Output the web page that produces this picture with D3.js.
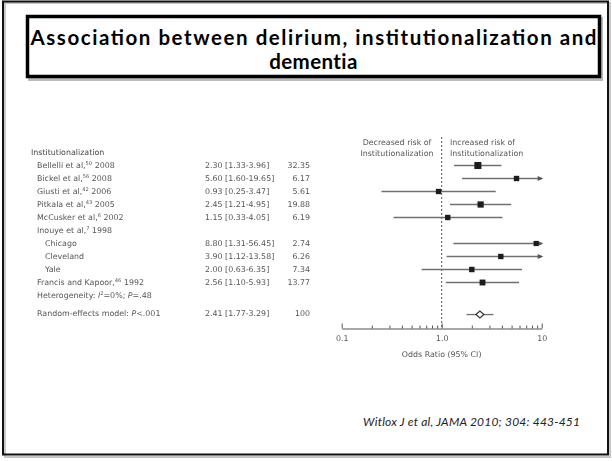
<!DOCTYPE html>
<html>
<head>
<meta charset="utf-8">
<script src="https://cdn.jsdelivr.net/npm/d3@7"></script>
<style>
  html, body { margin: 0; padding: 0; background: #fff; }
  svg { display: block; }
</style>
</head>
<body>
<svg id="slide" width="612" height="461"></svg>
<script>
// ---- data ----
const titleLines = ["Association between delirium, institutionalization and", "dementia"];
const citation = "Witlox J et al, JAMA 2010; 304: 443-451";
const sectionLabel = "Institutionalization";

const studies = ["Bellelli et al,", "Bickel et al,", "Giusti et al,", "Pitkala et al,", "McCusker et al,",
                 "Chicago", "Cleveland", "Yale", "Francis and Kapoor,"];
const refs    = ["50", "56", "42", "43", "6", "", "", "", "46"];
const years   = ["2008", "2008", "2006", "2005", "2002", "", "", "", "1992"];
const oddsRatio = [2.30, 5.60, 0.93, 2.45, 1.15, 8.80, 3.90, 2.00, 2.56];
const ciLow     = [1.33, 1.60, 0.25, 1.21, 0.33, 1.31, 1.12, 0.63, 1.10];
const ciHigh    = [3.96, 19.65, 3.47, 4.95, 4.05, 56.45, 13.58, 6.35, 5.93];
const weights   = [32.35, 6.17, 5.61, 19.88, 6.19, 2.74, 6.26, 7.34, 13.77];
const studyRows = [1, 2, 3, 4, 5, 7, 8, 9, 10];

// multi-site study heading (its sites are listed beneath it)
const groupStudy = { name: "Inouye et al,", ref: "7", year: "1998", row: 6 };

const heterogeneity = { row: 11 };
const pooled = { label: "Random-effects model: ", p: "P", pText: "<.001", or: 2.41, lo: 1.77, hi: 3.29, weight: 100, row: 12.35 };

const axisTicks = [0.1, 0.2, 0.3, 0.4, 0.5, 0.6, 0.7, 0.8, 0.9, 1, 2, 3, 4, 5, 6, 7, 8, 9, 10];
const axisLabels = { 0.1: "0.1", 1: "1.0", 10: "10" };
const sideLabels = [["Decreased risk of", "Institutionalization"], ["Increased risk of", "Institutionalization"]];
const axisTitle = "Odds Ratio (95% CI)";

// ---- drawing ----
const svg = d3.select("#slide");
const W = 612, H = 461;
svg.append("rect").attr("width", W).attr("height", H).attr("fill", "#fff");

// slide frame with a soft shadow
svg.append("rect").attr("x", 5).attr("y", 3).attr("width", 605).attr("height", 454)
  .attr("fill", "none").attr("stroke", "#c8c8c8").attr("stroke-width", 2);
svg.append("rect").attr("x", 3).attr("y", 1.5).attr("width", 605).attr("height", 453)
  .attr("fill", "none").attr("stroke", "#111").attr("stroke-width", 2);

// title box
svg.append("rect").attr("x", 29.5).attr("y", 18.5).attr("width", 572).attr("height", 61)
  .attr("fill", "none").attr("stroke", "#bbb").attr("stroke-width", 3);
svg.append("rect").attr("x", 27.5).attr("y", 16.5).attr("width", 572).attr("height", 60)
  .attr("fill", "#fff").attr("stroke", "#000").attr("stroke-width", 3.5);

const titleFont = "Lato, 'Open Sans', 'Liberation Sans', sans-serif";
const titleSize = 20.5;
svg.append("text").attr("x", 313.5).attr("y", 44.5).attr("text-anchor", "middle")
  .attr("font-family", titleFont).attr("font-weight", "bold").attr("font-size", titleSize)
  .attr("textLength", 566).attr("lengthAdjust", "spacing")
  .attr("fill", "#000").text(titleLines[0]);
svg.append("text").attr("x", 313.5).attr("y", 68.5).attr("text-anchor", "middle")
  .attr("font-family", titleFont).attr("font-weight", "bold").attr("font-size", titleSize)
  .attr("letter-spacing", 0.4)
  .attr("fill", "#000").text(titleLines[1]);

// citation
svg.append("text").attr("x", 363).attr("y", 426)
  .attr("font-family", titleFont).attr("font-style", "italic").attr("font-size", 12)
  .attr("textLength", 217).attr("lengthAdjust", "spacing")
  .attr("fill", "#222").text(citation);

// ---- forest plot ----
const defs = svg.append("defs");
defs.append("filter").attr("id", "soft").attr("x", "-5%").attr("y", "-5%").attr("width", "110%").attr("height", "110%")
  .append("feGaussianBlur").attr("stdDeviation", 0.6);

const fig = svg.append("g").attr("filter", "url(#soft)");
const x = d3.scaleLog().domain([0.1, 10]).range([341.7, 541.7]);
const y = d3.scaleLinear().domain([0, 12]).range([152.5, 308.5]);
const size = d3.scaleLinear().domain([0, 35]).range([5, 7.2]);

const txtFont = "'DejaVu Sans', Verdana, sans-serif";
const txtCol = "#555";
const fs = 7.9;
const base = 2.8;

function label(g, xPos, row, name, ref, year) {
  const t = g.append("text").attr("x", xPos).attr("y", y(row) + base)
    .attr("font-family", txtFont).attr("font-size", fs).attr("fill", txtCol);
  t.append("tspan").text(name);
  if (ref) t.append("tspan").attr("font-size", fs * 0.65).attr("dy", -3).text(ref);
  if (year) t.append("tspan").attr("dy", ref ? 3 : 0).text(" " + year);
  return t;
}

// left columns
fig.append("text").attr("x", 31).attr("y", y(0) + base).attr("font-family", txtFont)
  .attr("font-size", fs).attr("fill", "#444").text(sectionLabel);

studies.forEach((s, i) => {
  const sub = years[i] === "";
  label(fig, sub ? 45 : 37, studyRows[i], s, refs[i], years[i]);
  fig.append("text").attr("x", 205).attr("y", y(studyRows[i]) + base)
    .attr("font-family", txtFont).attr("font-size", fs).attr("fill", txtCol)
    .text(`${oddsRatio[i].toFixed(2)} [${ciLow[i].toFixed(2)}-${ciHigh[i].toFixed(2)}]`);
  fig.append("text").attr("x", 310).attr("y", y(studyRows[i]) + base).attr("text-anchor", "end")
    .attr("font-family", txtFont).attr("font-size", fs).attr("fill", txtCol)
    .text(weights[i].toFixed(2));
});
label(fig, 37, groupStudy.row, groupStudy.name, groupStudy.ref, groupStudy.year);

// heterogeneity line
const het = fig.append("text").attr("x", 37).attr("y", y(heterogeneity.row) + base)
  .attr("font-family", txtFont).attr("font-size", fs).attr("fill", txtCol);
het.append("tspan").text("Heterogeneity: ");
het.append("tspan").attr("font-style", "italic").text("I");
het.append("tspan").attr("font-size", fs * 0.65).attr("dy", -3).text("2");
het.append("tspan").attr("dy", 3).text("=0%; ");
het.append("tspan").attr("font-style", "italic").text("P");
het.append("tspan").text("=.48");

// pooled estimate text
const pt = fig.append("text").attr("x", 37).attr("y", y(pooled.row) + base)
  .attr("font-family", txtFont).attr("font-size", fs).attr("fill", txtCol);
pt.append("tspan").text(pooled.label);
pt.append("tspan").attr("font-style", "italic").text(pooled.p);
pt.append("tspan").text(pooled.pText);
fig.append("text").attr("x", 205).attr("y", y(pooled.row) + base)
  .attr("font-family", txtFont).attr("font-size", fs).attr("fill", txtCol)
  .text(`${pooled.or.toFixed(2)} [${pooled.lo.toFixed(2)}-${pooled.hi.toFixed(2)}]`);
fig.append("text").attr("x", 310).attr("y", y(pooled.row) + base).attr("text-anchor", "end")
  .attr("font-family", txtFont).attr("font-size", fs).attr("fill", txtCol)
  .text(String(pooled.weight));

// reference line at OR = 1
const axisY = 328.5;
fig.append("line").attr("x1", x(1)).attr("x2", x(1)).attr("y1", 137).attr("y2", axisY)
  .attr("stroke", "#555").attr("stroke-width", 1).attr("stroke-dasharray", "2,2");

// direction labels
sideLabels[0].forEach((s, k) => {
  fig.append("text").attr("x", 397).attr("y", 144.5 + k * 11.3).attr("text-anchor", "middle")
    .attr("font-family", txtFont).attr("font-size", fs).attr("fill", txtCol).text(s);
});
sideLabels[1].forEach((s, k) => {
  fig.append("text").attr("x", 450).attr("y", 144.5 + k * 11.3)
    .attr("font-family", txtFont).attr("font-size", fs).attr("fill", txtCol).text(s);
});

// confidence intervals, clipped at the axis end with an arrow
const xMax = x.domain()[1];
studies.forEach((s, i) => {
  const cy = y(studyRows[i]);
  const over = ciHigh[i] > xMax;
  const x2 = over ? x(xMax) : x(ciHigh[i]);
  fig.append("line").attr("x1", x(ciLow[i])).attr("x2", x2).attr("y1", cy).attr("y2", cy)
    .attr("stroke", "#707070").attr("stroke-width", 1.3);
  if (over) {
    fig.append("path")
      .attr("d", `M${x2 - 4},${cy - 2.6}L${x2 + 1.5},${cy}L${x2 - 4},${cy + 2.6}Z`)
      .attr("fill", "#555");
  }
  const s2 = size(weights[i]);
  fig.append("rect").attr("x", x(oddsRatio[i]) - s2 / 2).attr("y", cy - s2 / 2)
    .attr("width", s2).attr("height", s2).attr("fill", "#1e1e1e");
});

// pooled diamond
const py = y(pooled.row) + 1.5;
fig.append("line").attr("x1", x(pooled.lo)).attr("x2", x(pooled.hi)).attr("y1", py).attr("y2", py)
  .attr("stroke", "#707070").attr("stroke-width", 1.3);
const px = x(pooled.or);
fig.append("path").attr("d", `M${px - 4},${py}L${px},${py - 3.5}L${px + 4},${py}L${px},${py + 3.5}Z`)
  .attr("fill", "#fff").attr("stroke", "#333").attr("stroke-width", 1.2);

// log axis
const axis = d3.axisBottom(x).tickValues(axisTicks).tickSizeInner(-3).tickSizeOuter(0).tickPadding(7)
  .tickFormat(d => axisLabels[d] || "");
const ax = fig.append("g").attr("transform", `translate(0,${axisY})`).call(axis);
ax.select(".domain").attr("stroke", "#555").attr("stroke-width", 1);
ax.selectAll(".tick line").attr("stroke", "#555")
  .attr("y2", d => (axisLabels[d] ? -5 : -3));
ax.selectAll(".tick text").attr("font-family", txtFont).attr("font-size", fs).attr("fill", txtCol);

fig.append("text").attr("x", x(1)).attr("y", 357).attr("text-anchor", "middle")
  .attr("font-family", txtFont).attr("font-size", fs).attr("fill", txtCol).text(axisTitle);
</script>
</body>
</html>
